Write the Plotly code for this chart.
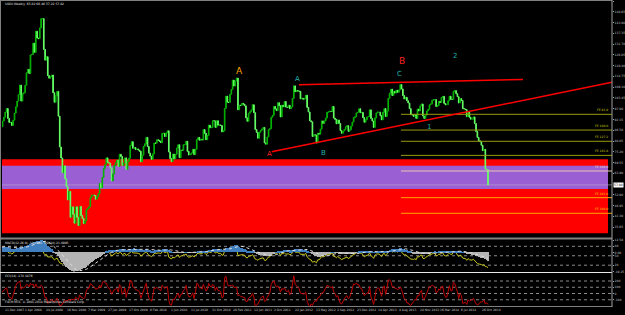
import numpy as np
import pandas as pd
import plotly.graph_objects as go

# ---------------- data (weekly closes, weeks starting Monday 11 Jun 2007) ----------------
close_2007 = [68.0, 69.2, 70.7, 72.8, 73.9, 75.6, 77.0, 75.5, 71.5, 71.9, 71.1, 74.0, 76.7,
              79.1, 81.6, 81.7, 81.2, 83.7, 88.6, 91.9, 95.9, 96.3, 95.1, 98.2, 88.7, 88.3,
              91.3, 93.3, 96.0, 97.9]
close_2008 = [92.7, 90.6, 90.7, 89.0, 91.8, 95.5, 98.8, 101.8, 105.2, 110.2, 101.8, 105.6, 106.2,
              110.1, 116.7, 118.5, 116.3, 126.0, 126.3, 132.2, 127.4, 138.5, 134.9, 134.6, 140.2,
              145.1, 145.1, 128.9, 123.3, 125.1, 115.2, 113.8, 114.6, 115.5, 106.2, 101.2, 104.6,
              106.9, 93.9, 77.7, 71.9, 64.2, 67.8, 61.0, 57.0, 49.9, 54.4, 40.8, 46.3, 42.4, 37.7, 46.3]
close_2009 = [40.8, 36.5, 46.5, 41.7, 40.2, 37.5, 38.9, 44.8, 45.5, 46.3, 51.1, 52.4, 52.5,
              52.2, 50.3, 51.6, 53.2, 58.6, 56.3, 61.7, 66.3, 68.4, 72.0, 69.6, 69.2, 66.7,
              59.9, 63.6, 68.1, 69.5, 70.9, 67.5, 73.9, 72.7, 68.0, 69.3, 72.0, 66.0, 70.0,
              71.8, 78.5, 80.5, 77.0, 77.4, 76.4, 76.7, 76.1, 75.5, 69.9, 73.4, 78.05, 79.4]
close_2010 = [82.75, 78.0, 74.5, 72.9, 71.2, 74.1, 79.8, 79.7, 81.5, 81.2, 80.7, 80.0, 84.9,
              84.9, 83.2, 85.1, 86.2, 75.1, 71.6, 70.0, 74.0, 71.5, 73.8, 77.2, 78.9, 72.1,
              76.1, 76.0, 78.9, 78.95, 80.7, 75.4, 73.5, 73.9, 74.6, 76.5, 73.7, 76.5, 81.6,
              82.7, 81.25, 81.7, 81.4, 86.85, 84.9, 81.5, 83.8, 89.2, 87.8, 88.0, 91.5, 91.4]
close_2011 = [88.0, 91.5, 89.1, 89.3, 89.0, 85.6, 86.2, 97.9, 104.4, 101.2, 101.1, 105.4, 107.9,
              112.8, 109.7, 112.3, 113.9, 97.2, 99.65, 99.5, 100.6, 100.2, 99.3, 93.0, 91.2, 95.4,
              96.2, 97.2, 99.9, 95.7, 86.9, 85.4, 82.3, 85.4, 86.45, 87.2, 87.96, 79.85, 79.2,
              82.98, 86.8, 87.4, 93.3, 94.3, 98.99, 97.7, 96.8, 100.96, 99.4, 93.5, 99.7, 98.8]
close_2012 = [101.6, 98.7, 98.5, 99.6, 97.8, 98.7, 103.2, 109.8, 106.7, 107.4, 107.1, 106.9, 103.0,
              103.3, 102.8, 103.05, 104.9, 98.5, 96.1, 91.5, 90.9, 83.2, 84.1, 84.0, 79.8, 84.96,
              84.45, 87.1, 91.4, 90.1, 91.4, 92.9, 96.0, 96.15, 96.5, 96.4, 99.0, 92.9, 92.2,
              89.9, 91.9, 90.05, 86.3, 84.9, 86.1, 86.9, 88.3, 88.9, 85.9, 86.7, 88.7, 90.8, 93.1]
close_2013 = [93.6, 95.6, 95.9, 97.8, 95.7, 95.9, 93.1, 90.7, 91.95, 93.5, 93.7, 97.2, 92.7,
              91.3, 88.0, 93.0, 95.6, 96.0, 96.0, 94.15, 91.97, 96.0, 97.85, 93.7, 96.6, 103.2,
              105.95, 108.05, 104.7, 106.9, 106.0, 107.5, 106.4, 107.65, 110.5, 108.2, 104.7,
              102.9, 103.8, 102.0, 100.8, 97.85, 94.6, 94.6, 93.8, 94.8, 92.7, 97.65, 96.6,
              99.3, 100.3, 93.96]
close_2014 = [92.7, 94.4, 96.6, 97.5, 99.9, 100.3, 102.2, 102.6, 102.6, 98.9, 99.5, 101.7, 101.1,
              103.7, 104.3, 100.6, 99.8, 100.0, 102.0, 104.35, 102.7, 102.7, 106.9, 107.3, 105.7,
              104.1, 100.8, 103.1, 102.1, 97.9, 97.65, 97.35, 93.65, 96.0, 93.3, 92.3, 92.4,
              93.5, 90.0, 85.8, 82.75, 81.0, 80.5, 78.65, 75.8, 76.5, 66.15, 65.8, 57.8]
first_week = "2007-06-11"

# price axis tick labels (right scale; the bid box takes the slot near 58)
price_ticks = [154.30, 148.65, 143.00, 137.35, 131.70, 126.05, 120.40, 114.75, 109.10, 103.45,
               97.80, 92.15, 86.50, 80.85, 75.20, 69.55, 63.90, 52.60, 46.95, 41.30, 35.65]

# date labels on the time scale (one every 16 bars)
date_labels = ["11 Dec 2007", "1 Apr 2008", "24 Jul 2008", "16 Nov 2008", "7 Mar 2009",
               "27 Jun 2009", "17 Oct 2009", "6 Feb 2010", "1 Jun 2010", "11 Jul 2010",
               "31 Oct 2010", "20 Feb 2011", "12 Jun 2011", "2 Oct 2011", "22 Jan 2012",
               "13 May 2012", "2 Sep 2012", "23 Dec 2012", "14 Apr 2013", "4 Aug 2013",
               "24 Nov 2013", "16 Mar 2014", "6 Jul 2014", "26 Oct 2014"]

# zones (price bounds)
red_zone = [32.39, 71.24]
purple_zone = [55.65, 67.88]

# Fibonacci expansion levels
fe_names = ["FE 61.8", "FE 100.0", "FE 127.2", "FE 161.8", "FE 200.0", "FE 261.8", "FE 300.0"]
fe_prices = [94.87, 86.60, 80.70, 73.30, 65.10, 51.10, 42.90]
fe_start = "2013-09-06"

# trend lines (date, price)
lower_line_start = ("2011-10-27", 75.23)
lower_line_end_price = 111.67
upper_line = [("2012-03-18", 110.4), ("2015-06-10", 113.2)]

# wave labels
wave_text = ["A", "A", "A", "B", "C", "B", "1", "2"]
wave_date = ["2011-05-09", "2012-03-08", "2011-10-16", "2012-07-24", "2013-08-28",
             "2013-09-11", "2014-01-31", "2014-06-17"]
wave_price = [117.8, 113.2, 74.0, 74.4, 116.0, 122.85, 88.2, 125.5]

# indicator levels
rsi_levels = [20, 50, 80]
cci_levels = [200, 100, 0, -100]

title_main = "USOil,Weekly  65.82 66.46 57.22 57.82"
title_ind1 = "MACD(12,26,9) -10.0981  RSI(14) 21.0995"
title_cci = "CCI(14) -174.1876"
copyright_txt = "FXCM MT4, \u00a9 2001-2014 MetaQuotes Software Corp."

# ---------------- derived series ----------------
closes = close_2007 + close_2008 + close_2009 + close_2010 + close_2011 + close_2012 + close_2013 + close_2014
dates = pd.date_range(first_week, periods=len(closes), freq="7D")
opens = [closes[0]] + closes[:-1]
highs = [max(o, c) for o, c in zip(opens, closes)]
lows = [min(o, c) for o, c in zip(opens, closes)]

s = pd.Series(closes, index=dates)
# indicators computed from the close series (as the platform does)
d = s.diff()
ag = d.clip(lower=0).ewm(alpha=1 / 14, adjust=False).mean()
al = (-d.clip(upper=0)).ewm(alpha=1 / 14, adjust=False).mean()
rsi = 100 - 100 / (1 + ag / al)
macd = s.ewm(span=12, adjust=False).mean() - s.ewm(span=26, adjust=False).mean()
signal = macd.rolling(9).mean()
sma = s.rolling(14).mean()
mdev = s.rolling(14).apply(lambda x: np.abs(x - x.mean()).mean(), raw=True)
cci = (s - sma) / (0.015 * mdev)

# ---------------- layout geometry (pixels) ----------------
W, H = 625, 315
PL, PR = 2, 612
last_date = dates[-1]
last_px = 488
px_week = 1.33
x_start = last_date - pd.Timedelta(weeks=(last_px - PL) / px_week)
x_end = last_date + pd.Timedelta(weeks=(PR - last_px) / px_week)

def py(px):
    return 1 - px / H

def pxx(px):
    return (px - PL) / (PR - PL)

vis = dates >= x_start
mmin, mmax = float(macd[vis].min()), float(macd[vis].max())

fig = go.Figure()

fig.add_trace(go.Candlestick(
    x=dates, open=opens, high=highs, low=lows, close=closes,
    increasing=dict(line=dict(color="#00b400", width=1), fillcolor="#00b400"),
    decreasing=dict(line=dict(color="#66ff66", width=1), fillcolor="#66ff66"),
    whiskerwidth=0, hoverinfo="skip", xaxis="x", yaxis="y"))

bar_colors = ["#3f7fc0" if v >= 0 else "#b4b4b4" for v in macd]
fig.add_trace(go.Bar(x=dates, y=macd, marker=dict(color=bar_colors, line=dict(width=0)),
                     width=6 * 86400000, xaxis="x", yaxis="y3", hoverinfo="skip"))
fig.add_trace(go.Scatter(x=dates, y=signal, mode="lines",
                         line=dict(color="#e0e0e0", width=1, dash="dot"),
                         xaxis="x", yaxis="y3", hoverinfo="skip"))
fig.add_trace(go.Scatter(x=dates, y=rsi, mode="lines", line=dict(color="#c8c820", width=1),
                         xaxis="x", yaxis="y2", hoverinfo="skip"))
fig.add_trace(go.Scatter(x=dates, y=cci, mode="lines", line=dict(color="#c00000", width=1),
                         xaxis="x", yaxis="y4", hoverinfo="skip"))

FS = 3
tickfont = dict(size=FS, color="#c8c8c8", family="DejaVu Sans")
common_y = dict(side="right", anchor="x", showgrid=False, zeroline=False, ticks="outside",
                ticklen=1, tickcolor="#a0a0a0", tickfont=tickfont, showline=False,
                automargin=False)

fig.update_layout(
    template="none",
    width=W, height=H, margin=dict(l=PL, r=W - PR, t=0, b=0, autoexpand=False),
    paper_bgcolor="black", plot_bgcolor="black", showlegend=False, bargap=0,
    xaxis=dict(type="date", range=[x_start, x_end], domain=[0, 1], anchor="y",
               showticklabels=False, showgrid=False, zeroline=False, ticks="",
               rangeslider=dict(visible=False), showline=False, automargin=False),
    yaxis=dict(domain=[py(237), py(1)], range=[30.45, 154.35],
               tickvals=price_ticks, ticktext=[f"{v:.2f}" for v in price_ticks], **common_y),
    yaxis2=dict(domain=[py(271.5), py(240)], range=[0, 100],
                tickvals=rsi_levels, ticktext=[str(v) for v in rsi_levels], **common_y),
    yaxis3=dict(overlaying="y2", range=[mmin, mmax], tickvals=[mmin, 0, mmax],
                ticktext=[f"{mmin:.2f}", "0.00", f"{mmax:.2f}"], **common_y),
    yaxis4=dict(domain=[py(306), py(273.5)], range=[-200, 320],
                tickvals=cci_levels, ticktext=[str(v) for v in cci_levels], **common_y),
)

shapes = []
# zones
shapes.append(dict(type="rect", xref="paper", yref="y", x0=0, x1=pxx(608), y0=red_zone[0],
                   y1=red_zone[1], fillcolor="#ff0000", line=dict(width=0), layer="below"))
shapes.append(dict(type="rect", xref="paper", yref="y", x0=0, x1=pxx(608), y0=purple_zone[0],
                   y1=purple_zone[1], fillcolor="#9a5fd2", line=dict(width=0), layer="below"))
# bid line
shapes.append(dict(type="line", xref="paper", yref="y", x0=0, x1=1, y0=closes[-1], y1=closes[-1],
                   line=dict(color="#b8a8d0", width=0.6), layer="below"))
# fib expansion lines
fe_colors = ["#9a9a10", "#9a9a10", "#9a9a10", "#9a9a10", "#e6c8b4", "#ffa500", "#ffa500"]
for p, c in zip(fe_prices, fe_colors):
    shapes.append(dict(type="line", xref="x", yref="y", x0=fe_start, x1=x_end, y0=p, y1=p,
                       line=dict(color=c, width=1)))
# trend lines
shapes.append(dict(type="line", xref="x", yref="y", x0=lower_line_start[0], y0=lower_line_start[1],
                   x1=x_end, y1=lower_line_end_price, line=dict(color="#ff0000", width=1.5)))
shapes.append(dict(type="line", xref="x", yref="y", x0=upper_line[0][0], y0=upper_line[0][1],
                   x1=upper_line[1][0], y1=upper_line[1][1], line=dict(color="#ff0000", width=1.5)))
# indicator levels
for v in rsi_levels:
    shapes.append(dict(type="line", xref="paper", yref="y2", x0=0, x1=1, y0=v, y1=v,
                       line=dict(color="#8a8a8a", width=1, dash="dot"), layer="below"))
for v in cci_levels:
    shapes.append(dict(type="line", xref="paper", yref="y4", x0=0, x1=1, y0=v, y1=v,
                       line=dict(color="#8a8a8a", width=1, dash="dot"), layer="below"))
# frames / separators
shapes.append(dict(type="line", xref="paper", yref="paper", x0=pxx(0), x1=1, y0=py(0.5), y1=py(0.5),
                   line=dict(color="#808080", width=1)))
shapes.append(dict(type="line", xref="paper", yref="paper", x0=pxx(0.5), x1=pxx(0.5), y0=py(306), y1=py(0),
                   line=dict(color="#808080", width=1)))
shapes.append(dict(type="line", xref="paper", yref="paper", x0=pxx(0), x1=1, y0=py(238.5), y1=py(238.5),
                   line=dict(color="#808080", width=2)))
shapes.append(dict(type="line", xref="paper", yref="paper", x0=pxx(0), x1=1, y0=py(272.5), y1=py(272.5),
                   line=dict(color="#e8e8e8", width=1)))
shapes.append(dict(type="line", xref="paper", yref="paper", x0=pxx(0), x1=1, y0=py(306.5), y1=py(306.5),
                   line=dict(color="#808080", width=1)))
shapes.append(dict(type="line", xref="paper", yref="paper", x0=1, x1=1, y0=py(307), y1=py(0),
                   line=dict(color="#a0a0a0", width=1)))
fig.update_layout(shapes=shapes)

ann = []
small = dict(size=FS, family="DejaVu Sans")
ann.append(dict(text=title_main, xref="paper", yref="paper", x=pxx(3), y=py(4), xanchor="left",
                yanchor="middle", showarrow=False, font=dict(color="#e0e0e0", **small)))
ann.append(dict(text=title_ind1, xref="paper", yref="paper", x=pxx(3), y=py(243), xanchor="left",
                yanchor="middle", showarrow=False, font=dict(color="#e0e0e0", **small)))
ann.append(dict(text=title_cci, xref="paper", yref="paper", x=pxx(3), y=py(276), xanchor="left",
                yanchor="middle", showarrow=False, font=dict(color="#e0e0e0", **small)))
ann.append(dict(text=copyright_txt, xref="paper", yref="paper", x=pxx(3), y=py(301.5), xanchor="left",
                yanchor="middle", showarrow=False, font=dict(color="#e0e0e0", **small)))
# time labels: one every 16 bars, from the left edge to the last label slot
lab_first_px, lab_last_px = 2.5, 480
n_lab = len(date_labels)
for k, lab in enumerate(date_labels):
    px = lab_first_px + k * (lab_last_px - lab_first_px) / (n_lab - 1)
    ann.append(dict(text=lab, xref="paper", yref="paper", x=pxx(px), y=py(310), xanchor="left",
                    yanchor="middle", showarrow=False, font=dict(color="#d0d0d0", **small)))
fe_text_colors = ["#d2d200", "#d2d200", "#d2d200", "#d2d200", "#f0d8c0", "#ffd000", "#ffd000"]
for name, p, c in zip(fe_names, fe_prices, fe_text_colors):
    ann.append(dict(text=name, xref="paper", yref="y", x=pxx(610), y=p, xanchor="right",
                    yanchor="bottom", showarrow=False, font=dict(color=c, **small)))
wave_colors = ["#ffa500", "#20b2aa", "#ff2020", "#20b2aa", "#20b2aa", "#ff2020", "#20b2aa", "#20b2aa"]
wave_sizes = [9, 7, 7, 7, 7, 9, 7, 7]
for t, dte, p, c, sz in zip(wave_text, wave_date, wave_price, wave_colors, wave_sizes):
    ann.append(dict(text=t, xref="x", yref="y", x=dte, y=p, xanchor="center", yanchor="middle",
                    showarrow=False, font=dict(color=c, size=sz, family="DejaVu Sans")))
ann.append(dict(text=f"{closes[-1]:.2f}", xref="paper", yref="y", x=1.002, y=closes[-1],
                xanchor="left", yanchor="middle", showarrow=False, bgcolor="#ffffff",
                borderpad=0, font=dict(color="#000000", **small)))
fig.update_layout(annotations=ann)

fig.write_html("out.html")
